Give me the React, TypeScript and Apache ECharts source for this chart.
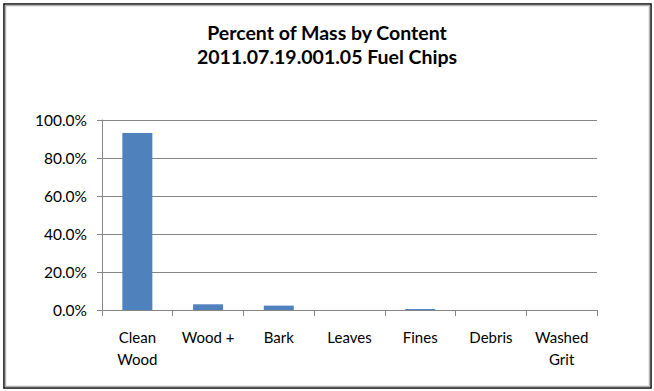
import React, { useEffect, useRef } from "react";
import * as echarts from "echarts";

const titleLines = ["Percent of Mass by Content", "2011.07.19.001.05 Fuel Chips"];
const categories = ["Clean\nWood", "Wood +", "Bark", "Leaves", "Fines", "Debris", "Washed\nGrit"];
const values = [93.2, 3.0, 2.3, 0, 0.5, 0, 0];
const yTicks = { min: 0, max: 100, interval: 20 };

export default function App() {
  const ref = useRef<HTMLDivElement>(null);
  useEffect(() => {
    if (!ref.current) return;
    const chart = echarts.init(ref.current, null, { renderer: "svg" });
    const font = "Lato, 'Open Sans', sans-serif";
    chart.setOption({
      animation: false,
      backgroundColor: "#ffffff",
      title: {
        text: titleLines.join("\n"),
        left: "center",
        top: 15,
        textStyle: { fontFamily: font, fontSize: 19.5, fontWeight: "bold", color: "#000", lineHeight: 24 },
      },
      grid: { left: 102, right: 57, top: 120, bottom: 81, containLabel: false },
      xAxis: {
        type: "category",
        data: categories,
        axisLine: { lineStyle: { color: "#868686" } },
        axisTick: { show: true, length: 6, alignWithLabel: false, lineStyle: { color: "#868686" } },
        axisLabel: { fontFamily: font, fontSize: 15, color: "#000", margin: 16, lineHeight: 22, interval: 0 },
      },
      yAxis: {
        type: "value",
        min: yTicks.min,
        max: yTicks.max,
        interval: yTicks.interval,
        axisLine: { show: true, lineStyle: { color: "#868686" } },
        axisTick: { show: true, length: 5, lineStyle: { color: "#868686" } },
        splitLine: { lineStyle: { color: "#868686" } },
        axisLabel: {
          fontFamily: font,
          fontSize: 15.5,
          color: "#000",
          margin: 15,
          formatter: (v: number) => v.toFixed(1) + "%",
        },
      },
      series: [
        {
          type: "bar",
          data: values,
          barWidth: 30,
          itemStyle: { color: "#4f81bd" },
        },
      ],
      graphic: [
        {
          type: "rect",
          shape: { x: 4, y: 4, width: 647, height: 384 },
          style: { fill: "none", stroke: "#000", lineWidth: 1.5 },
          z: 100,
        },
        {
          type: "rect",
          shape: { x: 5.5, y: 5.5, width: 644, height: 381 },
          style: { fill: "none", stroke: "#b0b0b0", lineWidth: 1.5 },
          z: 100,
        },
      ],
    });
    return () => chart.dispose();
  }, []);
  return <div ref={ref} style={{ width: 654, height: 391, position: "absolute", left: 0, top: 0 }} />;
}
